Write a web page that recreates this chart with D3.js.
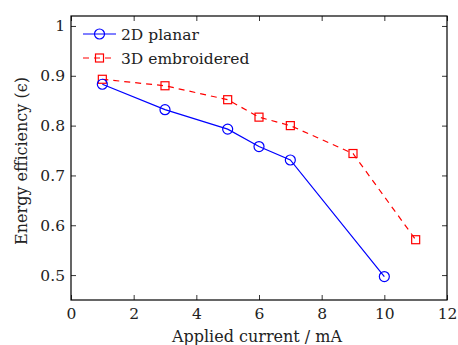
<!DOCTYPE html>
<html>
<head>
<meta charset="utf-8">
<script src="https://cdn.jsdelivr.net/npm/d3@7"></script>
<style>
  body { margin: 0; background: #fff; }
</style>
</head>
<body>
<div id="root"></div>
<script>
// data
const planarX = [1, 3, 5, 6, 7, 10];
const planarY = [0.883, 0.832, 0.793, 0.758, 0.731, 0.497];
const embX = [1, 3, 5, 6, 7, 9, 11];
const embY = [0.893, 0.880, 0.852, 0.817, 0.800, 0.744, 0.571];
const xTicks = [0, 2, 4, 6, 8, 10, 12];
const yTicks = [0.5, 0.6, 0.7, 0.8, 0.9, 1];

const W = 458, H = 345;
const margin = { top: 16, right: 11, bottom: 45, left: 71 };
const width = W - margin.left - margin.right,
  height = H - margin.top - margin.bottom;
const FONT = "DejaVu Serif";

const svg = d3.select("#root").append("svg")
  .attr("width", W).attr("height", H)
  .attr("font-family", FONT);
const g = svg.append("g")
  .attr("transform", `translate(${margin.left},${margin.top})`);

const x = d3.scaleLinear().domain([0, 12]).range([0, width]);
const y = d3.scaleLinear().domain([0.45, 1.02]).range([height, 0]);

const fmtY = d => d === 1 ? "1" : d3.format(".1f")(d);

// axes with inward ticks on every side
const tl = 5;
g.append("g").attr("transform", `translate(0,${height})`)
  .call(d3.axisBottom(x).tickValues(xTicks).tickSizeInner(-tl).tickSizeOuter(0).tickPadding(8));
g.append("g").attr("transform", "translate(0,0)")
  .call(d3.axisTop(x).tickValues(xTicks).tickSizeInner(-tl).tickSizeOuter(0).tickFormat(""));
g.append("g")
  .call(d3.axisLeft(y).tickValues(yTicks).tickSizeInner(-tl).tickSizeOuter(0).tickPadding(6).tickFormat(fmtY));
g.append("g").attr("transform", `translate(${width},0)`)
  .call(d3.axisRight(y).tickValues(yTicks).tickSizeInner(-tl).tickSizeOuter(0).tickFormat(""));

g.selectAll(".domain").attr("stroke", "none");
g.selectAll(".tick line").attr("stroke", "#000").attr("stroke-width", 0.8);
g.selectAll(".tick text").attr("font-size", 15.5).attr("font-family", FONT).attr("fill", "#222");

g.append("rect")
  .attr("width", width).attr("height", height)
  .attr("fill", "none").attr("stroke", "#000").attr("stroke-width", 1.2);

const line = d3.line().x(d => x(d[0])).y(d => y(d[1]));
const planar = planarX.map((v, i) => [v, planarY[i]]);
const emb = embX.map((v, i) => [v, embY[i]]);

g.append("path").datum(emb)
  .attr("fill", "none").attr("stroke", "#ff0000").attr("stroke-width", 1.2)
  .attr("stroke-dasharray", "6,5").attr("d", line);
g.selectAll(".sq").data(emb).enter().append("rect")
  .attr("x", d => x(d[0]) - 4).attr("y", d => y(d[1]) - 4)
  .attr("width", 8).attr("height", 8)
  .attr("fill", "none").attr("stroke", "#ff0000").attr("stroke-width", 1.2);

g.append("path").datum(planar)
  .attr("fill", "none").attr("stroke", "#0000ff").attr("stroke-width", 1.2).attr("d", line);
g.selectAll(".ci").data(planar).enter().append("circle")
  .attr("cx", d => x(d[0])).attr("cy", d => y(d[1])).attr("r", 5)
  .attr("fill", "none").attr("stroke", "#0000ff").attr("stroke-width", 1.2);

// legend
const lg = svg.append("g");
lg.append("line").attr("x1", 83).attr("x2", 116).attr("y1", 34).attr("y2", 34)
  .attr("stroke", "#0000ff").attr("stroke-width", 1.2);
lg.append("circle").attr("cx", 99.5).attr("cy", 34).attr("r", 5)
  .attr("fill", "none").attr("stroke", "#0000ff").attr("stroke-width", 1.2);
lg.append("text").attr("x", 121).attr("y", 39.5).attr("font-size", 15.5).attr("fill", "#222").text("2D planar");
lg.append("line").attr("x1", 83).attr("x2", 116).attr("y1", 58).attr("y2", 58)
  .attr("stroke", "#ff0000").attr("stroke-width", 1.2).attr("stroke-dasharray", "6,5");
lg.append("rect").attr("x", 95.5).attr("y", 54).attr("width", 8).attr("height", 8)
  .attr("fill", "none").attr("stroke", "#ff0000").attr("stroke-width", 1.2);
lg.append("text").attr("x", 121).attr("y", 63.5).attr("font-size", 15.5).attr("fill", "#222").text("3D embroidered");

// axis titles
svg.append("text").attr("x", margin.left + width / 2 - 2).attr("y", 342)
  .attr("text-anchor", "middle").attr("font-size", 16).attr("fill", "#222").text("Applied current / mA");
svg.append("text")
  .attr("transform", `translate(27,${margin.top + height / 2 + 3}) rotate(-90)`)
  .attr("text-anchor", "middle").attr("font-size", 16).attr("fill", "#222").text("Energy efficiency (ϵ)");
</script>
</body>
</html>
